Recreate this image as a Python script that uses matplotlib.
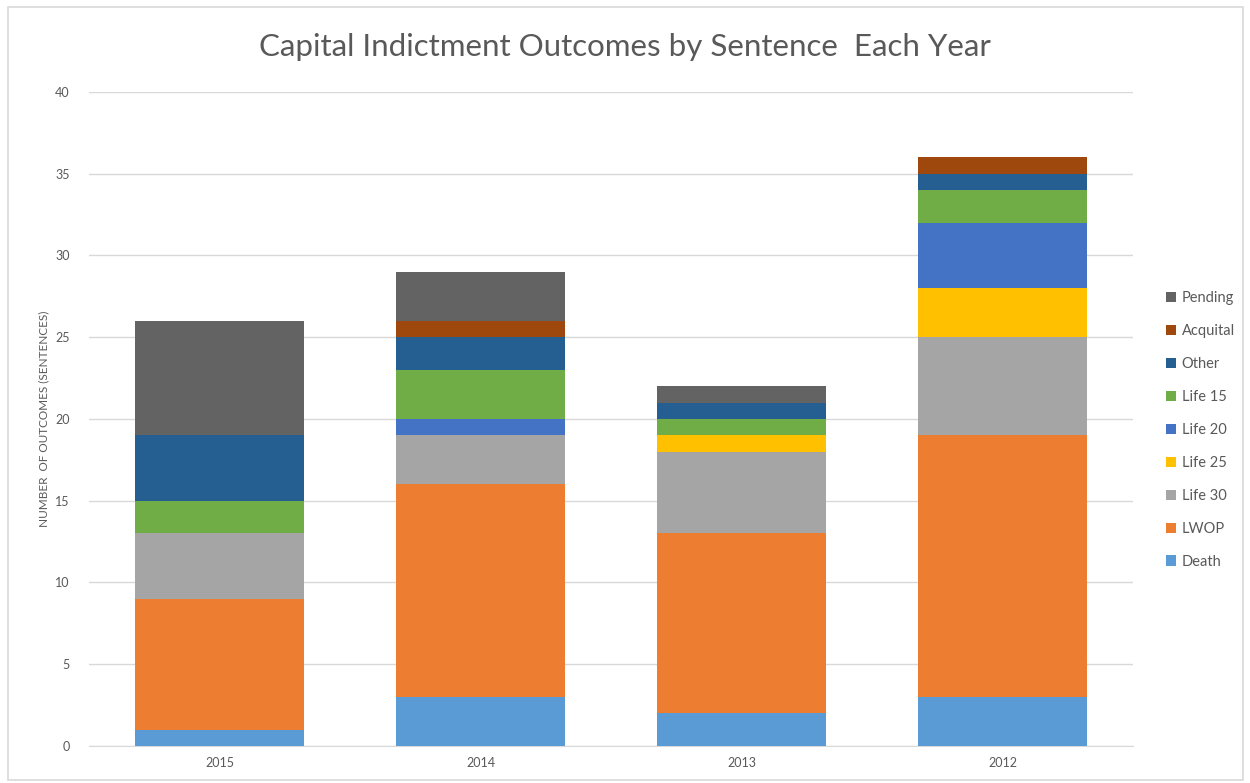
import numpy as np
import matplotlib.pyplot as plt
from matplotlib.patches import Rectangle

# Data
years = ['2015', '2014', '2013', '2012']
categories = ['Death', 'LWOP', 'Life 30', 'Life 25', 'Life 20', 'Life 15', 'Other', 'Acquital', 'Pending']
death = [1, 3, 2, 3]
lwop = [8, 13, 11, 16]
life30 = [4, 3, 5, 6]
life25 = [0, 0, 1, 3]
life20 = [0, 1, 0, 4]
life15 = [2, 3, 1, 2]
other = [4, 2, 1, 1]
acquital = [0, 1, 0, 1]
pending = [7, 3, 1, 0]
series = [death, lwop, life30, life25, life20, life15, other, acquital, pending]
colors = ['#5B9BD5', '#ED7D31', '#A5A5A5', '#FFC000', '#4472C4',
          '#70AD47', '#255E91', '#9E480E', '#636363']

plt.rcParams['font.family'] = ['Lato', 'DejaVu Sans']
txt = '#595959'

fig = plt.figure(figsize=(12.5, 7.83), dpi=100)
ax = fig.add_axes([0.0712, 0.0473, 0.8352, 0.8352])

x = np.arange(len(years))
bottom = np.zeros(len(years))
handles = []
for name, vals, c in zip(categories, series, colors):
    b = ax.bar(x, vals, width=0.65, bottom=bottom, color=c, label=name, zorder=3)
    handles.append(b)
    bottom += np.array(vals)

ax.set_xlim(-0.5, 3.5)
ax.set_ylim(0, 40)
ax.set_yticks(range(0, 41, 5))
ax.set_xticks(x)
ax.set_xticklabels(years)
ax.yaxis.grid(True, color='#d9d9d9', linewidth=1, zorder=0)
for s in ['top', 'right', 'left']:
    ax.spines[s].set_visible(False)
ax.spines['bottom'].set_color('#d9d9d9')
ax.tick_params(axis='both', length=0, labelsize=9, colors=txt)
ax.tick_params(axis='y', pad=14)
ax.tick_params(axis='x', pad=8)

ax.set_ylabel('NUMBER  OF OUTCOMES (SENTENCES)', fontsize=8.5, color=txt, labelpad=4)
fig.text(0.5, 0.94, 'Capital Indictment Outcomes by Sentence  Each Year',
         ha='center', va='center', fontsize=22.5, color=txt)

leg = fig.legend(handles[::-1], categories[::-1], loc='center left',
                 bbox_to_anchor=(0.922, 0.451), frameon=False, fontsize=10.5,
                 handlelength=0.7, handleheight=0.7, handletextpad=0.4,
                 labelspacing=1.3, labelcolor=txt)

fig.patches.append(Rectangle((0.006, 0.004), 0.988, 0.987, transform=fig.transFigure,
                             fill=False, edgecolor='#d9d9d9', linewidth=1.2))

plt.savefig('out.png', dpi=100)
